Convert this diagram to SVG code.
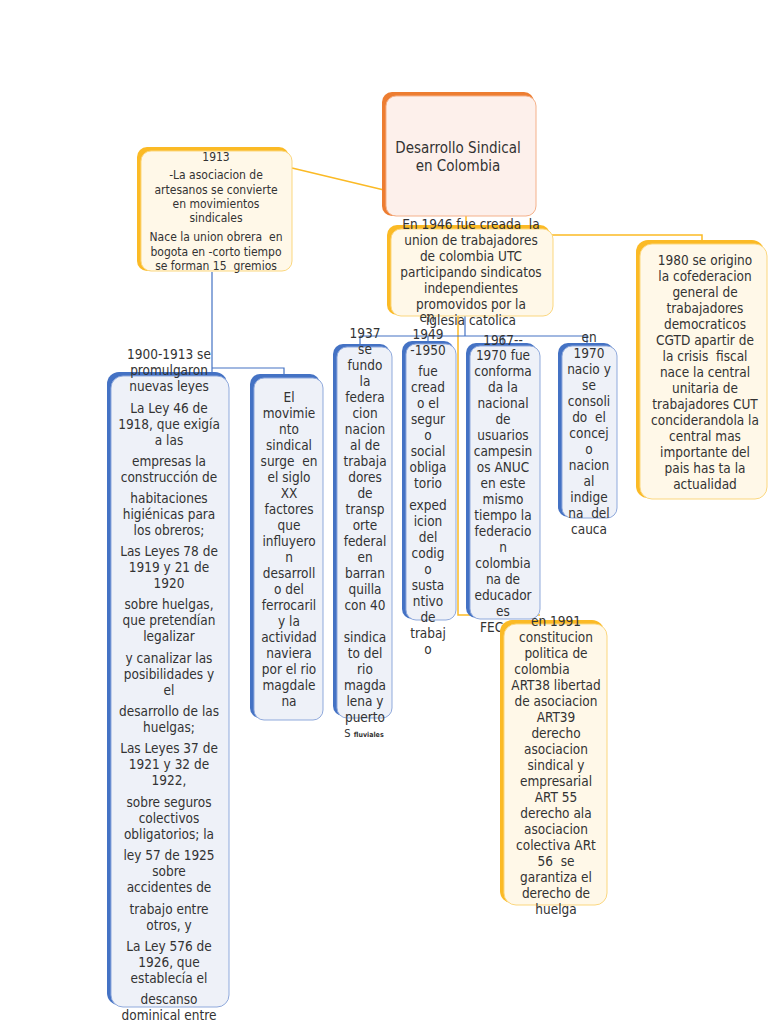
<svg xmlns="http://www.w3.org/2000/svg" width="768" height="1024" viewBox="0 0 768 1024">
<style>
text{font-family:"DejaVu Sans Condensed","DejaVu Sans",sans-serif;fill:#333;text-anchor:middle;font-size:13.5px;white-space:pre}
.t12{font-size:12px}
.t15{font-size:15px}
.bb{fill:#4472C4}
.bf{fill:#EEF1F8;stroke:#8FA9DC;stroke-width:1}
.yb{fill:#FBBA25}
.yf{fill:#FFF8E8;stroke:#FBD77F;stroke-width:1}
.ob{fill:#ED7D31}
.of{fill:#FDF0EB;stroke:#F4B18A;stroke-width:1}
.cy{stroke:#FBBA25;stroke-width:1.5;fill:none}
.cb{stroke:#4472C4;stroke-width:1.2;fill:none}
</style>
<rect width="768" height="1024" fill="#fff"/>
<g id="connectors">
<path class="cy" d="M292,168 L384,190"/>
<path class="cy" d="M466,216 V226"/>
<path class="cy" d="M552,235 H702 V241"/>
<path class="cy" d="M458,316 V615 H540"/>
<path class="cb" d="M465,316 V336"/>
<path class="cb" d="M360,336 H587"/>
<path class="cb" d="M360,336 V345 M428,336 V343 M503,336 V345 M587,336 V345"/>
<path class="cb" d="M212,272 V374 M212,368 H284 V376"/>
</g>
<g id="root">
<rect class="ob" x="382" y="92" width="152" height="124" rx="10"/>
<rect class="of" x="386" y="96" width="150" height="120" rx="10"/>
<text class="t15" x="458" y="153">Desarrollo Sindical</text>
<text class="t15" x="458" y="171">en Colombia</text>
</g>
<g id="n1913">
<rect class="yb" x="137" y="147" width="152" height="124" rx="10"/>
<rect class="yf" x="141" y="151" width="151" height="120" rx="10"/>
<text class="t12"><tspan x="216" y="161">1913</tspan><tspan x="216" y="179">-La asociacion de</tspan><tspan x="216" y="194">artesanos se convierte</tspan><tspan x="216" y="208">en movimientos</tspan><tspan x="216" y="222">sindicales</tspan><tspan x="216" y="241">Nace la union obrera  en</tspan><tspan x="216" y="256">bogota en -corto tiempo</tspan><tspan x="216" y="270">se forman 15  gremios</tspan></text>
</g>
<g id="utc">
<rect class="yb" x="387" y="225" width="163" height="90" rx="10"/>
<rect class="yf" x="391" y="229" width="162" height="87" rx="10"/>
<text><tspan x="471" y="229">En 1946 fue creada  la</tspan><tspan x="471" y="245">union de trabajadores</tspan><tspan x="471" y="261">de colombia UTC</tspan><tspan x="471" y="277">participando sindicatos</tspan><tspan x="471" y="293">independientes</tspan><tspan x="471" y="309">promovidos por la</tspan><tspan x="471" y="325">iglesia catolica</tspan></text>
</g>
<g id="n1980">
<rect class="yb" x="636" y="240" width="128" height="258" rx="12"/>
<rect class="yf" x="640" y="244" width="127" height="255" rx="12"/>
<text><tspan x="705" y="265">1980 se origino</tspan><tspan x="705" y="281">la cofederacion</tspan><tspan x="705" y="297">general de</tspan><tspan x="705" y="313">trabajadores</tspan><tspan x="705" y="329">democraticos</tspan><tspan x="705" y="345">CGTD apartir de</tspan><tspan x="705" y="361">la crisis  fiscal</tspan><tspan x="705" y="377">nace la central</tspan><tspan x="705" y="393">unitaria de</tspan><tspan x="705" y="409">trabajadores CUT</tspan><tspan x="705" y="425">conciderandola la</tspan><tspan x="705" y="441">central mas</tspan><tspan x="705" y="457">importante del</tspan><tspan x="705" y="473">pais has ta la</tspan><tspan x="705" y="489">actualidad</tspan></text>
</g>
<g id="leyes">
<rect class="bb" x="107" y="372" width="120" height="633" rx="12"/>
<rect class="bf" x="111" y="376" width="118" height="631" rx="12"/>
<text><tspan x="169" y="359">1900-1913 se</tspan><tspan x="169" y="375">promulgaron</tspan><tspan x="169" y="391">nuevas leyes</tspan><tspan x="169" y="413">La Ley 46 de</tspan><tspan x="169" y="429">1918, que exigía</tspan><tspan x="169" y="445">a las</tspan><tspan x="169" y="466">empresas la</tspan><tspan x="169" y="482">construcción de</tspan><tspan x="169" y="503">habitaciones</tspan><tspan x="169" y="519">higiénicas para</tspan><tspan x="169" y="535">los obreros;</tspan><tspan x="169" y="556">Las Leyes 78 de</tspan><tspan x="169" y="572">1919 y 21 de</tspan><tspan x="169" y="588">1920</tspan><tspan x="169" y="609">sobre huelgas,</tspan><tspan x="169" y="625">que pretendían</tspan><tspan x="169" y="641">legalizar</tspan><tspan x="169" y="663">y canalizar las</tspan><tspan x="169" y="679">posibilidades y</tspan><tspan x="169" y="695">el</tspan><tspan x="169" y="716">desarrollo de las</tspan><tspan x="169" y="732">huelgas;</tspan><tspan x="169" y="753">Las Leyes 37 de</tspan><tspan x="169" y="769">1921 y 32 de</tspan><tspan x="169" y="785">1922,</tspan><tspan x="169" y="807">sobre seguros</tspan><tspan x="169" y="823">colectivos</tspan><tspan x="169" y="839">obligatorios; la</tspan><tspan x="169" y="860">ley 57 de 1925</tspan><tspan x="169" y="876">sobre</tspan><tspan x="169" y="892">accidentes de</tspan><tspan x="169" y="914">trabajo entre</tspan><tspan x="169" y="930">otros, y</tspan><tspan x="169" y="951">La Ley 576 de</tspan><tspan x="169" y="967">1926, que</tspan><tspan x="169" y="983">establecía el</tspan><tspan x="169" y="1004">descanso</tspan><tspan x="169" y="1020">dominical entre</tspan></text>
</g>
<g id="movimiento">
<rect class="bb" x="250" y="374" width="70" height="344" rx="10"/>
<rect class="bf" x="254" y="378" width="69" height="342" rx="10"/>
<text><tspan x="289" y="402">El</tspan><tspan x="289" y="418">movimie</tspan><tspan x="289" y="434">nto</tspan><tspan x="289" y="450">sindical</tspan><tspan x="289" y="466">surge  en</tspan><tspan x="289" y="482">el siglo</tspan><tspan x="289" y="498">XX</tspan><tspan x="289" y="514">factores</tspan><tspan x="289" y="530">que</tspan><tspan x="289" y="546">influyero</tspan><tspan x="289" y="562">n</tspan><tspan x="289" y="578">desarroll</tspan><tspan x="289" y="594">o del</tspan><tspan x="289" y="610">ferrocaril</tspan><tspan x="289" y="626">y la</tspan><tspan x="289" y="642">actividad</tspan><tspan x="289" y="658">naviera</tspan><tspan x="289" y="674">por el rio</tspan><tspan x="289" y="690">magdale</tspan><tspan x="289" y="706">na</tspan></text>
</g>
<g id="n1937">
<rect class="bb" x="333" y="344" width="57" height="372" rx="10"/>
<rect class="bf" x="337" y="347" width="55" height="371" rx="10"/>
<text><tspan x="365" y="338">1937</tspan><tspan x="365" y="354">se</tspan><tspan x="365" y="370">fundo</tspan><tspan x="365" y="386">la</tspan><tspan x="365" y="402">federa</tspan><tspan x="365" y="418">cion</tspan><tspan x="365" y="434">nacion</tspan><tspan x="365" y="450">al de</tspan><tspan x="365" y="466">trabaja</tspan><tspan x="365" y="482">dores</tspan><tspan x="365" y="498">de</tspan><tspan x="365" y="514">transp</tspan><tspan x="365" y="530">orte</tspan><tspan x="365" y="546">federal</tspan><tspan x="365" y="562">en</tspan><tspan x="365" y="578">barran</tspan><tspan x="365" y="594">quilla</tspan><tspan x="365" y="610">con 40</tspan><tspan x="365" y="642">sindica</tspan><tspan x="365" y="658">to del</tspan><tspan x="365" y="674">rio</tspan><tspan x="365" y="690">magda</tspan><tspan x="365" y="706">lena y</tspan><tspan x="365" y="722">puerto</tspan></text>
<text x="364" y="737" style="font-size:11px">S <tspan style="font-size:7px;font-weight:bold">fluviales</tspan></text>
</g>
<g id="n1949">
<rect class="bb" x="402" y="341" width="52" height="278" rx="10"/>
<rect class="bf" x="406" y="344" width="50" height="276" rx="10"/>
<text><tspan x="427" y="322">en</tspan><tspan x="428" y="339">1949</tspan><tspan x="428" y="355">-1950</tspan><tspan x="428" y="376">fue</tspan><tspan x="428" y="392">cread</tspan><tspan x="428" y="408">o el</tspan><tspan x="428" y="424">segur</tspan><tspan x="428" y="440">o</tspan><tspan x="428" y="456">social</tspan><tspan x="428" y="472">obliga</tspan><tspan x="428" y="488">torio</tspan><tspan x="428" y="510">exped</tspan><tspan x="428" y="526">icion</tspan><tspan x="428" y="542">del</tspan><tspan x="428" y="558">codig</tspan><tspan x="428" y="574">o</tspan><tspan x="428" y="590">susta</tspan><tspan x="428" y="606">ntivo</tspan><tspan x="428" y="622">de</tspan><tspan x="428" y="638">trabaj</tspan><tspan x="428" y="654">o</tspan></text>
</g>
<g id="n1967">
<rect class="bb" x="466" y="343" width="71" height="275" rx="10"/>
<rect class="bf" x="470" y="346" width="70" height="273" rx="10"/>
<text><tspan x="503" y="345">1967--</tspan><tspan x="503" y="360">1970 fue</tspan><tspan x="503" y="376">conforma</tspan><tspan x="503" y="392">da la</tspan><tspan x="503" y="408">nacional</tspan><tspan x="503" y="424">de</tspan><tspan x="503" y="440">usuarios</tspan><tspan x="503" y="456">campesin</tspan><tspan x="503" y="472">os ANUC</tspan><tspan x="503" y="488">en este</tspan><tspan x="503" y="504">mismo</tspan><tspan x="503" y="520">tiempo la</tspan><tspan x="503" y="536">federacio</tspan><tspan x="503" y="552">n</tspan><tspan x="503" y="568">colombia</tspan><tspan x="503" y="584">na de</tspan><tspan x="503" y="600">educador</tspan><tspan x="503" y="616">es</tspan></text>
<text x="480" y="632" style="text-anchor:start">FEC</text>
</g>
<g id="n1970">
<rect class="bb" x="558" y="343" width="56" height="174" rx="10"/>
<rect class="bf" x="562" y="346" width="55" height="172" rx="10"/>
<text><tspan x="589" y="342">en</tspan><tspan x="589" y="358">1970</tspan><tspan x="589" y="374">nacio y</tspan><tspan x="589" y="390">se</tspan><tspan x="589" y="406">consoli</tspan><tspan x="589" y="422">do  el</tspan><tspan x="589" y="438">concej</tspan><tspan x="589" y="454">o</tspan><tspan x="589" y="470">nacion</tspan><tspan x="589" y="486">al</tspan><tspan x="589" y="502">indige</tspan><tspan x="589" y="518">na  del</tspan><tspan x="589" y="534">cauca</tspan></text>
</g>
<g id="n1991">
<rect class="yb" x="500" y="620" width="104" height="283" rx="12"/>
<rect class="yf" x="504" y="624" width="103" height="281" rx="12"/>
<text><tspan x="556" y="626">en 1991</tspan><tspan x="556" y="642">constitucion</tspan><tspan x="556" y="658">politica de</tspan><tspan x="542" y="674">colombia</tspan><tspan x="556" y="690">ART38 libertad</tspan><tspan x="556" y="706">de asociacion</tspan><tspan x="556" y="722">ART39</tspan><tspan x="556" y="738">derecho</tspan><tspan x="556" y="754">asociacion</tspan><tspan x="556" y="770">sindical y</tspan><tspan x="556" y="786">empresarial</tspan><tspan x="556" y="802">ART 55</tspan><tspan x="556" y="818">derecho ala</tspan><tspan x="556" y="834">asociacion</tspan><tspan x="556" y="850">colectiva ARt</tspan><tspan x="556" y="866">56  se</tspan><tspan x="556" y="882">garantiza el</tspan><tspan x="556" y="898">derecho de</tspan><tspan x="556" y="914">huelga</tspan></text>
</g>
</svg>
